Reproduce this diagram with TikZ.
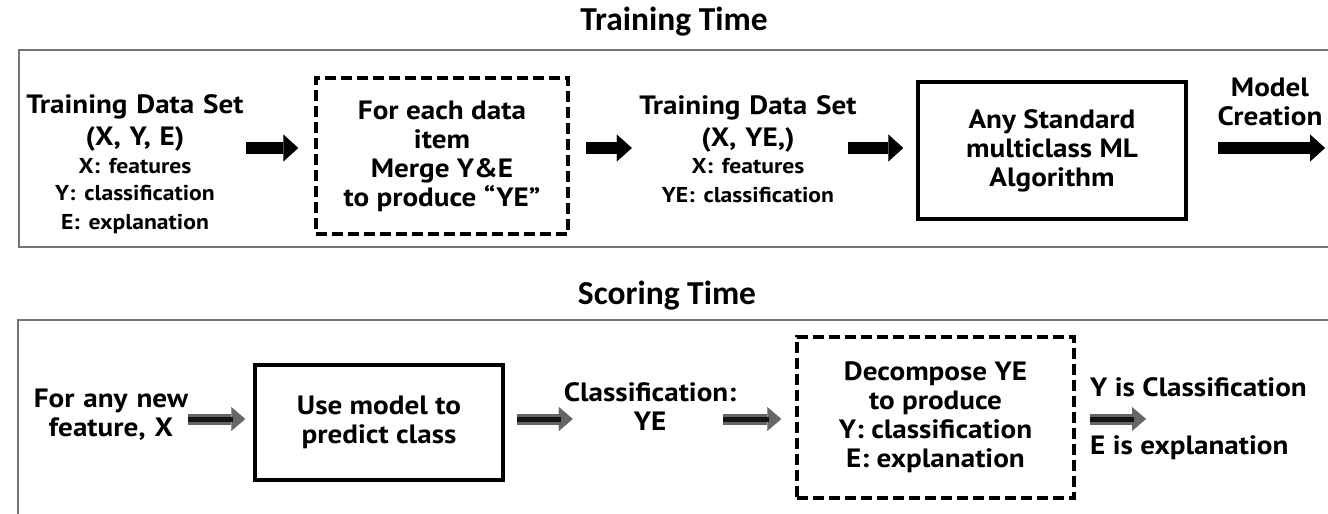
\documentclass[tikz,border=0pt]{standalone}
\usepackage{fontspec}
\newfontfamily\plex{PT Sans}[FakeStretch=1.1]
\newfontfamily\cali{Carlito}
\usetikzlibrary{arrows.meta}
\newcommand\smtxt{\fontsize{21.5}{26.5}\selectfont}
\begin{document}
\begin{tikzpicture}[x=1pt,y=-1pt,
  panel/.style={draw=black!55, line width=1.8pt},
  title/.style={font=\cali\bfseries\fontsize{33.5}{38}\selectfont, inner sep=0pt},
  txt/.style={align=center, inner sep=0pt, font=\plex\bfseries\fontsize{26.5}{29}\selectfont},
  solidbox/.style={draw, line width=3.5pt, align=center, inner sep=0pt, font=\plex\bfseries\fontsize{26.5}{29}\selectfont},
  dashbox/.style={draw, line width=3.5pt, dash pattern=on 11pt off 5pt, align=center, inner sep=0pt, font=\plex\bfseries\fontsize{26.5}{29}\selectfont},
  blk/.style={line width=12pt, -{Triangle[length=15pt,width=27pt,line width=0.1pt]}},
  gry/.style={line width=11pt, black!60, -{Triangle[length=14pt,width=24pt,line width=0.1pt]}},
  grycore/.style={line width=5pt, black!92},
]
\useasboundingbox (0,0) rectangle (1328,514);
\begin{scope}
  \clip (0,0) rectangle (1328,514);
  \draw[panel] (19,50) rectangle (1360,247);
  \draw[panel] (18,320) rectangle (1360,560);
\end{scope}

\node[title] (t1) at (674,22) {Training Time};
\node[title] (t2) at (667,296) {Scoring Time};

\coordinate (row1) at (0,148);
\coordinate (row2) at (0,419);

% ---- training row
\node[txt, text width=240pt] (lt1) at (135,164)
  {Training Data Set\\[3pt](X, Y, E)\\[2pt]\smtxt X: features\\Y: classification\\E: explanation};
\node[dashbox, minimum width=252pt, minimum height=156pt] (merge) at (442,156)
  {For each data\\item\\Merge Y\&E\\to produce “YE”};
\node[txt, text width=230pt] (mt) at (748,149)
  {Training Data Set\\[3pt](X, YE,)\\[1pt]\smtxt X: features\\YE: classification};
\node[solidbox, minimum width=268pt, minimum height=137pt] (algo) at (1052,150.5)
  {Any Standard\\multiclass ML\\Algorithm};
\node[txt, text width=120pt] (model) at (1270,102) {Model\\Creation};
\coordinate (out1) at (1325,148);

\draw[blk, shorten <=-9pt, shorten >=16pt] (lt1.east |- row1) -- (merge.west |- row1);
\draw[blk, shorten <=16pt, shorten >=1pt] (merge.east |- row1) -- (mt.west |- row1);
\draw[blk, shorten <=-15pt, shorten >=13pt] (mt.east |- row1) -- (algo.west |- row1);
\draw[blk, shorten <=8pt] (model.west |- row1) -- (out1);

% ---- scoring row
\node[txt, text width=170pt] (ft) at (111,415) {For any new\\feature, X};
\node[solidbox, minimum width=248pt, minimum height=115pt] (use) at (379,422.5)
  {Use model to\\predict class};
\node[txt, text width=200pt] (ct) at (650,407) {Classification:\\YE};
\node[dashbox, minimum width=277pt, minimum height=161pt] (dec) at (935.5,417.5)
  {Decompose YE\\to produce\\Y: classification\\E: explanation};
\node[txt, anchor=west] (yc) at (1090,387) {Y is Classification};
\node[txt, anchor=west] (ee) at (1090,448) {E is explanation};
\coordinate (out2) at (1146,419);

\draw[gry, shorten <=-8pt, shorten >=8pt] (ft.east |- row2) -- (use.west |- row2);
\draw[grycore, shorten <=-8pt, shorten >=20pt] (ft.east |- row2) -- (use.west |- row2);
\draw[gry, shorten <=12pt, shorten >=-23pt] (use.east |- row2) -- (ct.west |- row2);
\draw[grycore, shorten <=12pt, shorten >=-11pt] (use.east |- row2) -- (ct.west |- row2);
\draw[gry, shorten <=-27pt, shorten >=14pt] (ct.east |- row2) -- (dec.west |- row2);
\draw[grycore, shorten <=-27pt, shorten >=26pt] (ct.east |- row2) -- (dec.west |- row2);
\draw[gry, shorten <=14pt] (dec.east |- row2) -- (out2);
\draw[grycore, shorten <=14pt, shorten >=12pt] (dec.east |- row2) -- (out2);
\end{tikzpicture}
\end{document}
